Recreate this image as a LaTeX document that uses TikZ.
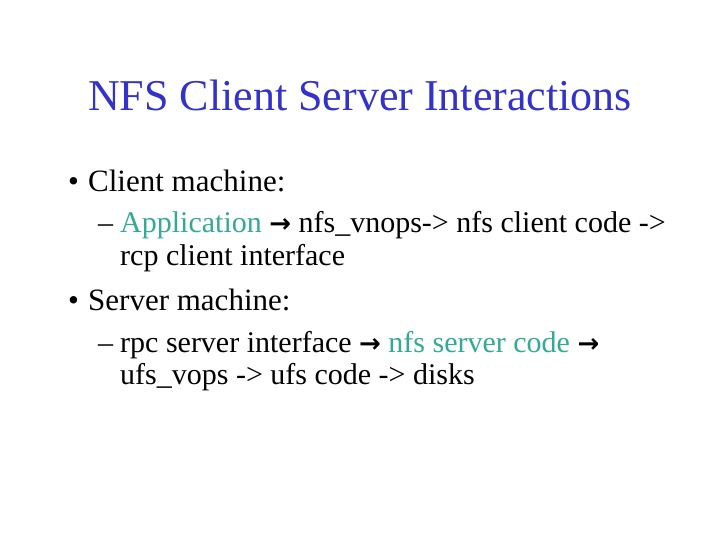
\documentclass[tikz,border=0pt]{standalone}
\usepackage{fontspec}
\setmainfont{Liberation Serif}
\newfontfamily\djv{DejaVu Sans}
\definecolor{titleblue}{RGB}{51,51,204}
\definecolor{tealc}{RGB}{51,170,150}
\newcommand{\arr}{{\djv\bfseries\fontsize{26}{26}\selectfont →}}
\begin{document}
\begin{tikzpicture}[x=1pt,y=-1pt,
  lvl/.style={anchor=base west,inner sep=0pt},
  title/.style={anchor=base,inner sep=0pt,text=titleblue,font=\fontsize{44}{44}\selectfont},
  big/.style={lvl,font=\fontsize{31}{31}\selectfont},
  small/.style={lvl,font=\fontsize{30}{30}\selectfont}]
\useasboundingbox[fill=white] (0,0) rectangle (720,540);
\node[title] (t) at (360,111) {NFS Client Server Interactions};
\node[big] (b1) at (68,192) {•};
\node[big] (c) at (88,192) {Client machine:};
\node[small] (d1) at (98,233) {–};
\node[small] (s1) at (120,233) {\textcolor{tealc}{Application} \arr{} nfs\_vnops-> nfs client code ->};
\node[small] (s2) at (120,265) {rcp client interface};
\node[big] (b2) at (68,310) {•};
\node[big] (s) at (88,310) {Server machine:};
\node[small] (d2) at (98,352) {–};
\node[small] (s3) at (120,352) {rpc server interface \arr{} \textcolor{tealc}{nfs server code} \arr};
\node[small] (s4) at (120,384) {ufs\_vops -> ufs code -> disks};
\end{tikzpicture}
\end{document}
